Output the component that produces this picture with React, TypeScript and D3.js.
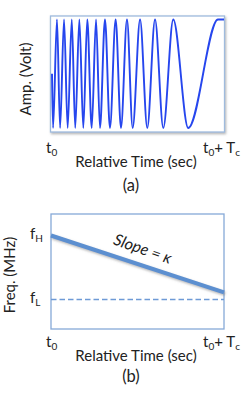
import React from 'react';
import * as d3 from 'd3';

// panel (a): extrema of the chirp (relative time 0..1, amplitude -1..1)
const chirpTimes = [
  0, 0.006, 0.029, 0.047, 0.07, 0.091, 0.115, 0.135, 0.159, 0.182, 0.205, 0.231, 0.256,
  0.279, 0.308, 0.337, 0.37, 0.401, 0.436, 0.469, 0.512, 0.554, 0.599, 0.647, 0.705,
  0.792, 0.965, 1,
];
const chirpAmps = [
  0, -1, 1, -1, 1, -1, 1, -1, 1, -1, 1, -1, 1,
  -1, 1, -1, 1, -1, 1, -1, 1, -1, 1, -1, 1,
  -1, 1, 1,
];

// panel (b): frequency sweep (fL = 0, fH = 1)
const sweepTimes = [0, 1];
const sweepFreqs = [1, 0.11];
const floorFreqs = [0, 0];
const freqTicks = [
  { v: 1, base: 'f', sub: 'H' },
  { v: 0, base: 'f', sub: 'L' },
];

const FONT = 'Lato, "Open Sans", sans-serif';
const TXT = '#222';
const FS = 15;
const SUBFS = 10;

const Sub = ({ x, y, base, sub, rest, restSub }: any) => (
  <text x={x} y={y} fontSize={FS} fill={TXT}>
    {base}
    <tspan fontSize={SUBFS} dy={3}>{sub}</tspan>
    {rest && <tspan fontSize={FS} dy={-3}>{rest}</tspan>}
    {restSub && <tspan fontSize={SUBFS} dy={3}>{restSub}</tspan>}
  </text>
);

const TimeAxis = ({ y, label, gap }: { y: number; label: string; gap: number }) => (
  <g fontFamily={FONT}>
    <Sub x={46} y={y} base="t" sub="0" />
    <Sub x={203} y={y} base="t" sub="0" rest="+ T" restSub="c" />
    <text x={136} y={y + 14} fontSize={FS} fill={TXT} textAnchor="middle">Relative Time (sec)</text>
    <text x={131} y={y + gap} fontSize={16.5} fill={TXT} textAnchor="middle">{label}</text>
  </g>
);

export default function App() {
  // panel (a)
  const xa = d3.scaleLinear().domain([0, 1]).range([52, 224]);
  const ya = d3.scaleLinear().domain([-1, 1]).range([128, 19.5]);
  const wave = d3
    .line<number>()
    .x((d, i) => xa(chirpTimes[i]))
    .y((d) => ya(d))
    .curve(d3.curveMonotoneX);

  // panel (b)
  const xb = d3.scaleLinear().domain([0, 1]).range([51, 224]);
  const yb = d3.scaleLinear().domain([0, 1]).range([299.5, 235.5]);
  const sweep = d3
    .line<number>()
    .x((d, i) => xb(sweepTimes[i]))
    .y((d) => yb(d));

  const angle = (Math.atan2(yb(sweepFreqs[1]) - yb(sweepFreqs[0]), xb(1) - xb(0)) * 180) / Math.PI;

  return (
    <svg width={249} height={397} style={{ position: 'absolute', left: 0, top: 0 }}>
      <defs>
        <filter id="shadow" x="-10%" y="-10%" width="130%" height="130%">
          <feDropShadow dx={1} dy={1.5} stdDeviation={0.8} floodColor="#777" floodOpacity={0.55} />
        </filter>
      </defs>
      <rect width={249} height={397} fill="#fff" />

      {/* (a) amplitude */}
      <rect x={50.5} y={16} width={174} height={116} fill="#fff" stroke="#9fbbdd" strokeWidth={1.3} filter="url(#shadow)" />
      <path d={wave(chirpAmps) || ''} fill="none" stroke="#2646ee" strokeWidth={1.9} />
      <text
        transform="translate(31,79) rotate(-90)"
        fontFamily={FONT}
        fontSize={FS}
        fill={TXT}
        textAnchor="middle"
      >
        Amp. (Volt)
      </text>
      <TimeAxis y={153} label="(a)" gap={38} />

      {/* (b) frequency */}
      <rect x={51} y={214} width={173} height={115} fill="#fff" stroke="#86a9d8" strokeWidth={1.3} />
      <path
        d={sweep(floorFreqs) || ''}
        fill="none"
        stroke="#6e9ad6"
        strokeWidth={1.6}
        strokeDasharray="5.5,3"
      />
      <path
        d={sweep(sweepFreqs) || ''}
        fill="none"
        stroke="#5b8fd0"
        strokeWidth={4}
        filter="url(#shadow)"
      />
      <text
        transform={`translate(141,254) rotate(${angle + 1})`}
        fontFamily={FONT}
        fontSize={16}
        fontStyle="italic"
        fill={TXT}
        textAnchor="middle"
      >
        Slope = κ
      </text>
      <g fontFamily={FONT}>
        {freqTicks.map((t) => (
          <Sub key={t.sub} x={30} y={yb(t.v) + 3.5} base={t.base} sub={t.sub} />
        ))}
      </g>
      <text
        transform="translate(15,275) rotate(-90)"
        fontFamily={FONT}
        fontSize={FS}
        fill={TXT}
        textAnchor="middle"
      >
        Freq. (MHz)
      </text>
      <TimeAxis y={347} label="(b)" gap={35} />
    </svg>
  );
}
